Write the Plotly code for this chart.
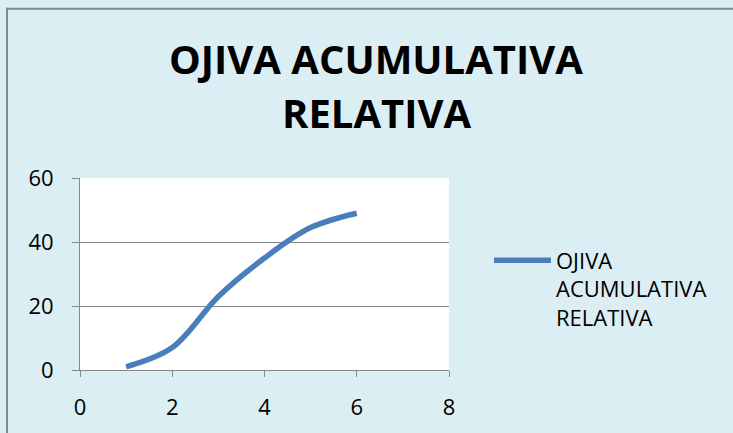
import plotly.graph_objects as go

x_vals = [1, 2, 3, 4, 5, 6]
y_vals = [1, 7, 23, 35, 44.5, 49]
series_name = "OJIVA<br>ACUMULATIVA<br>RELATIVA"
title_lines = ["OJIVA ACUMULATIVA", "RELATIVA"]
x_ticks = [0, 2, 4, 6, 8]
y_ticks = [0, 20, 40, 60]

FONT = "Open Sans"
BG = "#DBEEF4"
GRID = "#888888"

# body margin is removed by post_script, so figure pixels = page pixels
OFF = 0
W, H = 733 - OFF, 433 - OFF
PL, PR, PT, PB = 80, 449, 178, 372   # plot area in page pixels
L, T = PL - OFF, PT - OFF
R = W - (PR - OFF)
B = H - (PB - OFF)
pw, ph = W - L - R, H - T - B

def px_x(p):
    return (p - OFF - L) / pw

def px_y(p):
    return (H - B - (p - OFF)) / ph

fig = go.Figure()
fig.add_trace(go.Scatter(
    x=x_vals, y=y_vals, mode="lines", name=series_name,
    line=dict(color="#4A7EBB", width=5.5, shape="spline", smoothing=1.0),
    showlegend=True,
))

border = dict(color="#878787", width=2)
fig.update_layout(
    width=W, height=H,
    margin=dict(l=L, r=R, t=T, b=B),
    paper_bgcolor=BG, plot_bgcolor="white",
    font=dict(family=FONT, size=22, color="black"),
    showlegend=True,
    legend=dict(
        x=px_x(489), y=px_y(240), xanchor="left", yanchor="top",
        bgcolor="rgba(0,0,0,0)", font=dict(family=FONT, size=22, color="black"),
        valign="top", itemwidth=57,
    ),
    xaxis=dict(
        range=[0, 8], tickvals=x_ticks, showgrid=False, zeroline=False,
        showline=True, linecolor=GRID, linewidth=1,
        ticks="outside", ticklen=6, tickcolor=GRID, ticklabelstandoff=12,
    ),
    yaxis=dict(
        range=[0, 60], tickvals=y_ticks, showgrid=True, gridcolor=GRID, gridwidth=1,
        zeroline=False, showline=True, linecolor=GRID, linewidth=1,
        ticks="outside", ticklen=7, tickcolor=GRID, ticklabelstandoff=14,
    ),
    shapes=[
        dict(type="line", xref="paper", yref="paper",
             x0=px_x(6), x1=px_x(740), y0=px_y(7), y1=px_y(7), line=border, layer="below"),
        dict(type="line", xref="paper", yref="paper",
             x0=px_x(7), x1=px_x(7), y0=px_y(6), y1=px_y(440), line=border, layer="below"),
    ],
)

title_y = [57, 112]
for txt, yp in zip(title_lines, title_y):
    fig.add_annotation(
        text="<b>" + txt + "</b>", xref="paper", yref="paper",
        x=px_x(376), y=px_y(yp), xanchor="center", yanchor="middle",
        showarrow=False, font=dict(family=FONT, size=40, color="black"),
    )

post = (
    "document.body.style.margin='0';"
    "document.body.style.overflow='hidden';"
    "document.documentElement.style.overflow='hidden';"
    "document.body.style.background='" + BG + "';"
)
fig.write_html("out.html", post_script=post, config={"displayModeBar": False})
